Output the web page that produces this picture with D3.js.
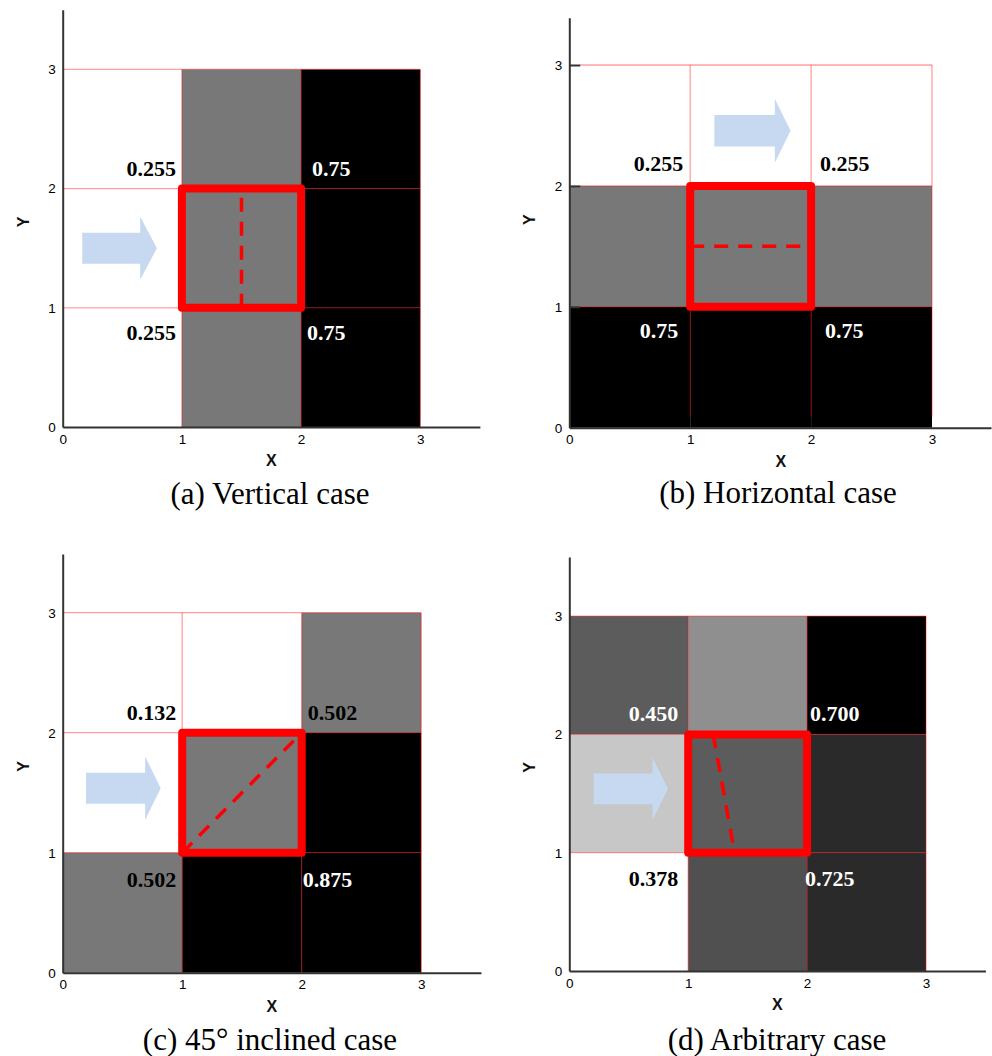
<!DOCTYPE html>
<html>
<head>
<meta charset="utf-8">
<script src="https://cdn.jsdelivr.net/npm/d3@7"></script>
<style>
  html, body { margin: 0; padding: 0; background: #fff; }
  svg { display: block; }
</style>
</head>
<body>
<svg id="fig" width="992" height="1056"></svg>
<script>
// ---- data ----
const xTicks = [0, 1, 2, 3];
const yTicks = [0, 1, 2, 3];

const captions = ["(a) Vertical case", "(b) Horizontal case", "(c) 45\u00B0 inclined case", "(d) Arbitrary case"];

// cell shading, 0 = white .. 1 = black; rows from top (y 2-3) to bottom (y 0-1)
const shadeVertical   = [[0, 0.53, 1], [0, 0.53, 1], [0, 0.53, 1]];
const shadeHorizontal = [[0, 0, 0], [0.53, 0.53, 0.53], [1, 1, 1]];
const shadeInclined   = [[0, 0, 0.53], [0, 0.53, 1], [0.53, 1, 1]];
const shadeArbitrary  = [[0.64, 0.44, 1], [0.22, 0.64, 0.835], [0, 0.685, 0.835]];

// volume fractions of the diagonal neighbours: top-left, top-right, bottom-left, bottom-right
const labelsVertical   = ["0.255", "0.75", "0.255", "0.75"];
const labelsHorizontal = ["0.255", "0.255", "0.75", "0.75"];
const labelsInclined   = ["0.132", "0.502", "0.502", "0.875"];
const labelsArbitrary  = ["0.450", "0.700", "0.378", "0.725"];

// interface segment inside the centre cell
const interfaceVertical   = [[1.5, 1], [1.5, 2]];
const interfaceHorizontal = [[1, 1.5], [2, 1.5]];
const interfaceInclined   = [[1, 1], [2, 2]];
const interfaceArbitrary  = [[1.21, 2], [1.39, 1]];

// ---- layout of the four panels ----
const panels = [
  { shade: shadeVertical, labels: labelsVertical, iface: interfaceVertical, caption: captions[0],
    ox: 62.7, oy: 427, ux: 119.2, uy: 119.2, yMax: 3.5, gridStart: 0, tickIn: 0,
    arrow: [0.164, 0.65, 0.79, 1.5],
    capX: 270, capY: 504,
    ldx: [-6, 11, -6, 6], ldy: [-13, 32] },
  { shade: shadeHorizontal, labels: labelsHorizontal, iface: interfaceHorizontal, caption: captions[1],
    ox: 569.3, oy: 427.7, ux: 120.9, uy: 120.9, yMax: 3.39, gridStart: 0.09, tickIn: 11,
    arrow: [1.2, 1.7, 1.83, 2.456],
    capX: 778, capY: 503,
    ldx: [-7, 9, -12, 14], ldy: [-15, 31] },
  { shade: shadeInclined, labels: labelsInclined, iface: interfaceInclined, caption: captions[2],
    ox: 62.7, oy: 972.7, ux: 119.5, uy: 120, yMax: 3.49, gridStart: 0, tickIn: 0,
    arrow: [0.195, 0.69, 0.82, 1.537],
    capX: 270, capY: 1050,
    ldx: [-6, 6, -6, 1], ldy: [-13, 34] },
  { shade: shadeArbitrary, labels: labelsArbitrary, iface: interfaceArbitrary, caption: captions[3],
    ox: 569.3, oy: 971, ux: 118.9, uy: 118.3, yMax: 3.5, gridStart: 0, tickIn: 0,
    arrow: [0.205, 0.70, 0.83, 1.54],
    capX: 777, capY: 1050,
    ldx: [-10, 3, -10, -2], ldy: [-13, 33] }
];

const svg = d3.select("#fig");
svg.append("rect").attr("width", 992).attr("height", 1056).attr("fill", "#fff");

const grey = s => { const v = Math.round(255 * (1 - s)); return `rgb(${v},${v},${v})`; };
const SANS = "'Liberation Sans', Arial, sans-serif";
const SERIF = "'Liberation Serif', 'Times New Roman', serif";

panels.forEach(p => {
  const xMax = Math.min(3.5, (991 - p.ox) / p.ux);
  const x = d3.scaleLinear().domain([0, xMax]).range([p.ox, p.ox + xMax * p.ux]);
  const y = d3.scaleLinear().domain([0, p.yMax]).range([p.oy, p.oy - p.yMax * p.uy]);
  const g = svg.append("g");

  // cells of the 3x3 mesh
  const cells = [];
  p.shade.forEach((row, r) => row.forEach((s, c) => cells.push({ i: c, j: 2 - r, s })));
  g.selectAll("rect.cell").data(cells).join("rect")
    .attr("class", "cell")
    .attr("x", d => x(d.i))
    .attr("y", d => y(d.j + 1))
    .attr("width", d => x(d.i + 1) - x(d.i))
    .attr("height", d => y(d.j) - y(d.j + 1))
    .attr("fill", d => grey(d.s));

  // mesh lines
  const lines = [1, 2, 3];
  g.selectAll("line.h").data(lines).join("line")
    .attr("x1", x(p.gridStart)).attr("x2", x(3))
    .attr("y1", d => y(d)).attr("y2", d => y(d))
    .attr("stroke", "#ff0000").attr("stroke-opacity", 0.38).attr("stroke-width", 1.3);
  g.selectAll("line.v").data(lines).join("line")
    .attr("y1", y(p.gridStart)).attr("y2", y(3))
    .attr("x1", d => x(d)).attr("x2", d => x(d))
    .attr("stroke", "#ff0000").attr("stroke-opacity", 0.38).attr("stroke-width", 1.3);

  // axes
  const xAxis = d3.axisBottom(x).tickValues(xTicks).tickSize(0).tickPadding(7).tickFormat(d3.format("d"));
  const yAxis = d3.axisLeft(y).tickValues(yTicks).tickSizeInner(-p.tickIn).tickSizeOuter(0).tickPadding(7).tickFormat(d3.format("d"));
  const gx = g.append("g").attr("transform", `translate(0,${p.oy})`).call(xAxis);
  const gy = g.append("g").attr("transform", `translate(${p.ox},0)`).call(yAxis);
  [gx, gy].forEach(a => {
    a.select(".domain").attr("stroke", "#333").attr("stroke-width", 2);
    a.selectAll(".tick line").attr("stroke", "#333").attr("stroke-width", 2);
    a.selectAll(".tick text").attr("font-family", SANS).attr("font-size", 13.5).attr("fill", "#000");
  });
  gy.selectAll(".tick").filter(d => d === 0).select("line").remove();

  g.append("text").text("X")
    .attr("x", x(1.75)).attr("y", p.oy + 39)
    .attr("text-anchor", "middle").attr("font-family", SANS).attr("font-weight", "bold")
    .attr("font-size", 16).attr("fill", "#111");
  g.append("text").text("Y")
    .attr("transform", `translate(${p.ox - 34},${y(1.72)}) rotate(-90)`)
    .attr("text-anchor", "middle").attr("font-family", SANS).attr("font-weight", "bold")
    .attr("font-size", 16).attr("fill", "#111");

  // inflow arrow
  const [ax0, ax1, ax2, ay] = p.arrow, h = 0.13, H = 0.265;
  const pts = [[ax0, ay + h], [ax1, ay + h], [ax1, ay + H], [ax2, ay], [ax1, ay - H], [ax1, ay - h], [ax0, ay - h]];
  g.append("polygon")
    .attr("points", pts.map(q => `${x(q[0])},${y(q[1])}`).join(" "))
    .attr("fill", "#c6d9f0");

  // volume fraction labels at the corner neighbours of the centre cell
  const corners = [
    { col: 0, row: 2, anchor: "end",   bx: 1, by: 2, top: true },
    { col: 2, row: 2, anchor: "start", bx: 2, by: 2, top: true },
    { col: 0, row: 0, anchor: "end",   bx: 1, by: 1, top: false },
    { col: 2, row: 0, anchor: "start", bx: 2, by: 1, top: false }
  ];
  g.selectAll("text.vf").data(corners).join("text")
    .attr("class", "vf")
    .text((d, k) => p.labels[k])
    .attr("x", (d, k) => x(d.bx) + p.ldx[k])
    .attr("y", d => y(d.by) + (d.top ? p.ldy[0] : p.ldy[1]))
    .attr("text-anchor", d => d.anchor)
    .attr("font-family", SERIF).attr("font-weight", "bold").attr("font-size", 22)
    .attr("fill", d => p.shade[2 - d.row][d.col] > 0.6 ? "#fff" : "#000");

  // interface inside the centre cell
  g.append("line")
    .attr("x1", x(p.iface[0][0])).attr("y1", y(p.iface[0][1]))
    .attr("x2", x(p.iface[1][0])).attr("y2", y(p.iface[1][1]))
    .attr("stroke", "#ff0000").attr("stroke-width", 3.5).attr("stroke-dasharray", "14,10");

  // highlighted centre cell
  g.append("rect")
    .attr("x", x(1)).attr("y", y(2))
    .attr("width", x(2) - x(1)).attr("height", y(1) - y(2))
    .attr("fill", "none").attr("stroke", "#ff0000").attr("stroke-width", 8)
    .attr("stroke-linejoin", "round");

  // caption
  svg.append("text").text(p.caption)
    .attr("x", p.capX).attr("y", p.capY)
    .attr("text-anchor", "middle").attr("font-family", SERIF).attr("font-size", 31).attr("fill", "#000");
});
</script>
</body>
</html>
